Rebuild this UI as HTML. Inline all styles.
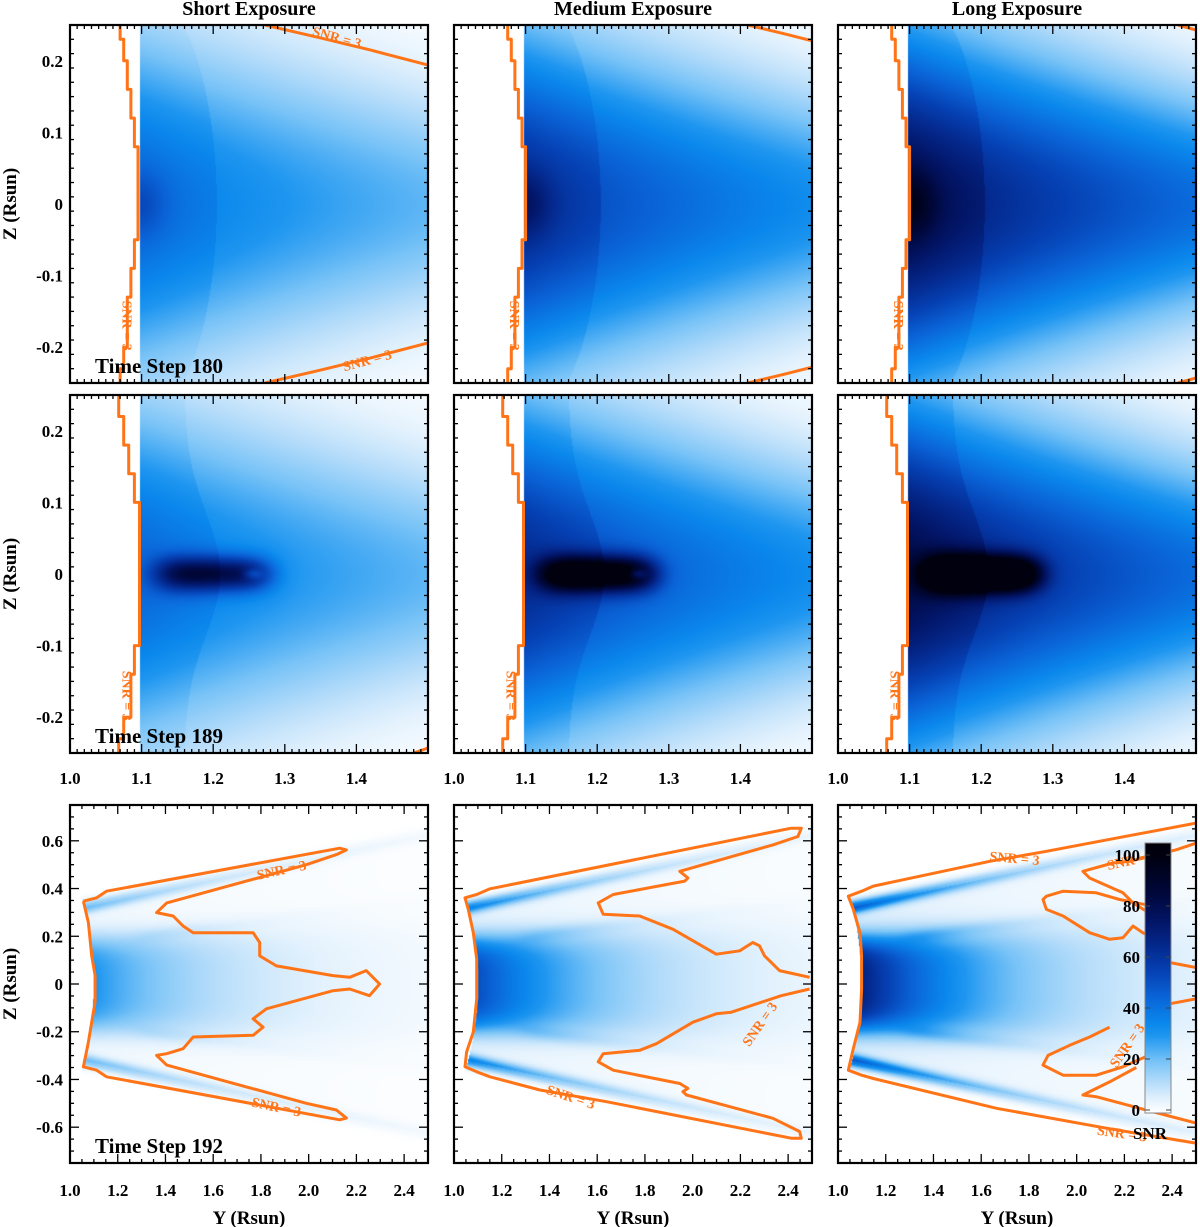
<!DOCTYPE html>
<html><head><meta charset="utf-8">
<style>
html,body{margin:0;padding:0;background:#fff;}
#root{position:relative;width:1200px;height:1227px;overflow:hidden;background:#fff;}
canvas{position:absolute;}
svg{position:absolute;left:0;top:0;}
text{font-family:"Liberation Serif",serif;font-weight:bold;}
</style></head>
<body>
<div id="root">
<svg id="ov" width="1200" height="1227"></svg>
</div>
<script>
// ---------- data ----------
const exposures = ["Short Exposure","Medium Exposure","Long Exposure"];
const expGain = [40, 58, 75];          // rows 1-2 base SNR scale per exposure
const row3Gain = [0.45, 0.75, 1.0];    // row 3 SNR scale per exposure
const timeSteps = [180, 189, 192];
const xRanges = [[1.0,1.5],[1.0,1.5],[1.0,2.5]];
const zRanges = [[-0.25,0.25],[-0.25,0.25],[-0.75,0.75]];
const xTickLabels = [["1.0","1.1","1.2","1.3","1.4"],["1.0","1.1","1.2","1.3","1.4"],["1.0","1.2","1.4","1.6","1.8","2.0","2.2","2.4"]];
const xTickVals = [[1.0,1.1,1.2,1.3,1.4],[1.0,1.1,1.2,1.3,1.4],[1.0,1.2,1.4,1.6,1.8,2.0,2.2,2.4]];
const zTickVals = [[0.2,0.1,0,-0.1,-0.2],[0.2,0.1,0,-0.1,-0.2],[0.6,0.4,0.2,0,-0.2,-0.4,-0.6]];
const zTickLabels = [["0.2","0.1","0","-0.1","-0.2"],["0.2","0.1","0","-0.1","-0.2"],["0.6","0.4","0.2","0","-0.2","-0.4","-0.6"]];
const cbarVals = [0,20,40,60,80,100];
// contours (Y, Z in Rsun)
const limbR1 = [[1.07,0.25],[1.07,0.23],[1.075,0.23],[1.075,0.2],[1.08,0.2],[1.08,0.16],[1.085,0.16],[1.085,0.12],[1.09,0.12],[1.09,0.08],[1.095,0.08],[1.095,-0.05],[1.09,-0.05],[1.09,-0.09],[1.085,-0.09],[1.085,-0.13],[1.08,-0.13],[1.08,-0.2],[1.075,-0.2],[1.075,-0.23],[1.07,-0.23],[1.07,-0.25]];
const limbR2 = [[1.068,0.25],[1.068,0.22],[1.075,0.22],[1.075,0.18],[1.082,0.18],[1.082,0.14],[1.09,0.14],[1.09,0.1],[1.097,0.1],[1.097,-0.1],[1.09,-0.1],[1.09,-0.14],[1.085,-0.14],[1.085,-0.2],[1.075,-0.2],[1.075,-0.23],[1.068,-0.23],[1.068,-0.25]];
const r1Top = [[[1.272,0.25],[1.35,0.232],[1.42,0.215],[1.5,0.194]],[[1.41,0.25],[1.46,0.238],[1.5,0.228]],[[1.475,0.25],[1.5,0.243]]];
const r1Bot = [[[1.272,-0.25],[1.35,-0.232],[1.42,-0.215],[1.5,-0.194]],[[1.41,-0.25],[1.46,-0.238],[1.5,-0.228]],[[1.475,-0.25],[1.5,-0.243]]];
const r3c1 = [[1.056,0.347],[1.112,0.361],[1.153,0.389],[2.13,0.569],[2.158,0.562],[2.116,0.542],[1.99,0.5],[1.405,0.34],[1.363,0.299],[1.432,0.285],[1.474,0.243],[1.516,0.215],[1.767,0.215],[1.795,0.174],[1.795,0.118],[1.865,0.076],[2.102,0.035],[2.172,0.028],[2.241,0.056],[2.297,0],[2.255,-0.049],[2.172,-0.021],[2.102,-0.028],[1.823,-0.104],[1.767,-0.146],[1.809,-0.181],[1.767,-0.215],[1.516,-0.222],[1.474,-0.271],[1.405,-0.292],[1.363,-0.299],[1.405,-0.34],[1.99,-0.5],[2.116,-0.528],[2.158,-0.562],[2.13,-0.569],[1.153,-0.389],[1.112,-0.361],[1.056,-0.347],[1.077,-0.243],[1.091,-0.16],[1.105,-0.076],[1.105,0.035],[1.091,0.118],[1.077,0.257],[1.056,0.347]];
const r3c2 = [[2.49,0.028],[2.364,0.056],[2.301,0.118],[2.28,0.16],[2.252,0.174],[2.197,0.139],[2.099,0.125],[1.918,0.229],[1.778,0.285],[1.625,0.292],[1.604,0.34],[1.667,0.375],[1.967,0.431],[1.98,0.444],[1.946,0.472],[2.336,0.583],[2.441,0.618],[2.455,0.653],[2.413,0.653],[1.151,0.399],[1.095,0.375],[1.046,0.361],[1.06,0.3125],[1.081,0.215],[1.095,0.104],[1.095,-0.0625],[1.081,-0.201],[1.053,-0.285],[1.046,-0.347],[1.095,-0.368],[1.151,-0.389],[1.36,-0.444],[1.639,-0.493],[2.413,-0.646],[2.455,-0.646],[2.448,-0.618],[2.336,-0.5625],[1.974,-0.465],[1.959,-0.451],[1.98,-0.4375],[1.946,-0.417],[1.667,-0.361],[1.604,-0.326],[1.625,-0.292],[1.778,-0.278],[1.848,-0.25],[2.001,-0.16],[2.099,-0.125],[2.162,-0.118],[2.371,-0.049],[2.49,-0.021]];
const r3c3 = [
 [[2.5,0.674],[1.873,0.556],[1.636,0.514],[1.148,0.41],[1.099,0.389],[1.043,0.368],[1.064,0.3125],[1.092,0.215],[1.099,0.118],[1.099,-0.021],[1.092,-0.16],[1.064,-0.271],[1.043,-0.361],[1.099,-0.382],[1.148,-0.396],[1.664,-0.521],[2.124,-0.604],[2.5,-0.667]],
 [[2.5,0.59],[2.417,0.5625],[2.222,0.514],[2.152,0.507],[2.026,0.472],[2.054,0.444],[2.194,0.382],[2.236,0.34],[2.3,0.3]],
 [[2.3,0.33],[2.18,0.354],[2.082,0.382],[1.943,0.389],[1.873,0.368],[1.859,0.354],[1.873,0.3125],[1.943,0.285],[2.054,0.215],[2.138,0.1875],[2.194,0.194],[2.236,0.243],[2.277,0.215],[2.305,0.2]],
 [[2.389,0.09],[2.5,0.069]],
 [[2.389,-0.083],[2.5,-0.0625]],
 [[2.138,-0.181],[2.054,-0.222],[1.971,-0.257],[1.88,-0.299],[1.859,-0.34],[1.943,-0.382],[2.082,-0.382],[2.194,-0.347],[2.3,-0.3]],
 [[2.5,-0.583],[2.264,-0.521],[2.082,-0.472],[2.026,-0.465],[2.138,-0.41],[2.25,-0.35]]
];
// ---------- layout ----------
const colLeft=[70,454,838], rowTop=[25,395,805], PW=358, PH=358;
const ORANGE="#ff7417";
function xs(r,c,v){const[a,b]=xRanges[r];return colLeft[c]+(v-a)/(b-a)*PW;}
function zs(r,v){const[a,b]=zRanges[r];return rowTop[r]+(b-v)/(b-a)*PH;}
const cmapStops=[[0,[255,255,255]],[5,[228,242,253]],[12,[180,220,250]],[20,[120,195,247]],[30,[30,150,240]],[35,[10,135,236]],[45,[10,100,215]],[55,[5,65,180]],[65,[4,40,140]],[75,[2,20,100]],[85,[0,8,60]],[100,[0,0,15]]];
function cmap(v){v=Math.max(0,Math.min(100,v));for(let i=1;i<cmapStops.length;i++){if(v<=cmapStops[i][0]){const[a,ca]=cmapStops[i-1],[b,cb]=cmapStops[i];const t=(v-a)/(b-a);return[ca[0]+(cb[0]-ca[0])*t,ca[1]+(cb[1]-ca[1])*t,ca[2]+(cb[2]-ca[2])*t];}}return cmapStops[cmapStops.length-1][1];}
function snr(r,c,y,z){
 if(r<2){
  if(y<1.098) return 0;
  const A=expGain[c];
  const s=Math.max(0.1,0.17-(y-1.1)*0.15);
  let v=A*Math.exp(-(y-1.1)*1.4)*Math.exp(-z*z/(2*s*s));
  if(r===0){
   v+=A*0.2*Math.exp(-Math.pow((y-1.1)/0.035,2)-Math.pow(z/0.045,2));
   const ya=1.1+0.105*Math.sqrt(Math.max(0,1-Math.pow(z/0.3,2)));
   if(y<ya) v*=1.1;
  } else {
   const ya=1.16+0.05*Math.exp(-Math.pow(z/0.12,2));
   if(y<ya) v*=1.1;
   const amp=A*1.2;
   v+=amp*Math.exp(-Math.pow((y-1.2)/0.08,4))*Math.exp(-Math.pow(z/0.024,2));
   const d2=Math.pow((y-1.255)/0.013,2)+Math.pow(z/0.007,2);
   v-=0.35*amp*Math.exp(-d2);
  }
  return v;
 } else {
  const lim=1.1-0.4*z*z;
  if(y<lim) return 0;
  const g=row3Gain[c];
  const az=Math.abs(z);
  const w=0.2+0.06*(y-1.1);
  let v=62*Math.exp(-(y-1.1)/0.5)*Math.exp(-Math.pow(az/w,4));
  const zc=0.33+0.214*(y-1.1);
  v+=40*Math.exp(-(y-1.1)/0.6)*Math.exp(-Math.pow((az-zc)/0.028,2));
  if(az<zc) v+=6*Math.exp(-(y-1.1)/1.0);
  const zh=0.2+0.12*(y-1.3);
  const ramp=1/(1+Math.exp(-(y-1.3)/0.04));
  v+=10*ramp*Math.exp(-Math.max(0,y-1.3)/0.4)*Math.exp(-Math.pow((az-zh)/0.03,2));
  return v*g;
 }
}
const root=document.getElementById('root');
const ov=document.getElementById('ov');
const NS="http://www.w3.org/2000/svg";
function el(tag,attrs,parent){const e=document.createElementNS(NS,tag);for(const k in attrs)e.setAttribute(k,attrs[k]);(parent||ov).appendChild(e);return e;}
function txt(x,y,s,size,anchor,parent){const t=el('text',{x:x,y:y,'font-size':size,'text-anchor':anchor||'middle'},parent);t.textContent=s;return t;}

for(let r=0;r<3;r++)for(let c=0;c<3;c++){
 const cv=document.createElement('canvas');
 cv.width=PW;cv.height=PH;cv.style.left=colLeft[c]+'px';cv.style.top=rowTop[r]+'px';
 
 
 root.insertBefore(cv,ov);
 const ctx=cv.getContext('2d');const im=ctx.createImageData(PW,PH);
 const[x0,x1]=xRanges[r],[z0,z1]=zRanges[r];
 for(let j=0;j<PH;j++){const z=z1-(j+0.5)/PH*(z1-z0);for(let i=0;i<PW;i++){const y=x0+(i+0.5)/PW*(x1-x0);const col=cmap(snr(r,c,y,z));const k=(j*PW+i)*4;im.data[k]=col[0];im.data[k+1]=col[1];im.data[k+2]=col[2];im.data[k+3]=255;}}
 ctx.putImageData(im,0,0);
}
function poly(r,c,pts,name){
 const d=pts.map((p,i)=>(i?'L':'M')+xs(r,c,p[0]).toFixed(1)+','+zs(r,p[1]).toFixed(1)).join(' ');
 const p=el('path',{d:d,fill:'none',stroke:ORANGE,'stroke-width':3,'stroke-linejoin':'round','clip-path':'url(#clip'+r+c+')'});
 
 
}
function clabel(r,c,y,z,ang,s){
 const x=xs(r,c,y),yy=zs(r,z);
 const t=el('text',{x:x,y:yy+5,'font-size':14,'text-anchor':'middle',fill:ORANGE,transform:'rotate('+ang+' '+x+' '+yy+')'});
 t.textContent=s||"SNR = 3";
 
 
}
const defs=el('defs',{});
for(let r=0;r<3;r++)for(let c=0;c<3;c++)el('rect',{x:colLeft[c],y:rowTop[r],width:PW,height:PH},el('clipPath',{id:'clip'+r+c},defs));

for(let c=0;c<3;c++){
 const t=txt(colLeft[c]+PW/2,15,exposures[c],20);
 
 
}
// contours
for(let c=0;c<3;c++){
 const dx=[0,0.005,0.005][c];
 poly(0,c,limbR1.map(p=>[p[0]+dx,p[1]]),'snr3-contour-limb');
 poly(0,c,r1Top[c],'snr3-contour-top');
 poly(0,c,r1Bot[c],'snr3-contour-bottom');
 clabel(0,c,1.08+dx,-0.17,90);
 poly(1,c,limbR2,'snr3-contour-limb');
 clabel(1,c,1.08,-0.17,90);
}
clabel(0,0,1.373,0.233,15);
clabel(0,0,1.415,-0.218,-15);
poly(1,0,[[1.48,-0.25],[1.5,-0.243]],'snr3-contour-corner');
poly(2,0,r3c1,'snr3-contour');
clabel(2,0,1.886,0.479,-12);clabel(2,0,1.865,-0.514,12);
poly(2,1,r3c2,'snr3-contour');
clabel(2,1,1.49,-0.472,18);clabel(2,1,2.28,-0.167,-55);
r3c3.forEach(p=>poly(2,2,p,'snr3-contour'));
clabel(2,2,1.74,0.528,5);clabel(2,2,2.23,0.52,-12);clabel(2,2,2.21,-0.257,-55);clabel(2,2,2.19,-0.625,8);

// frames + ticks
function ticks(r,c){
 const L=colLeft[c],T=rowTop[r],g=el('g',{stroke:'#000','stroke-width':1.3});
 
 
 const[x0,x1]=xRanges[r],[z0,z1]=zRanges[r];
 const xMaj=r<2?0.1:0.2,xMin=r<2?0.01:0.05,zMaj=r<2?0.1:0.2,zMin=r<2?0.02:0.05;
 const nx=Math.round((x1-x0)/xMin);
 for(let i=0;i<=nx;i++){const v=x0+i*xMin;const maj=Math.abs(v/xMaj-Math.round(v/xMaj))<1e-6;const len=maj?9:4;const x=xs(r,c,v);
  el('line',{x1:x,y1:T+PH,x2:x,y2:T+PH-len},g);el('line',{x1:x,y1:T,x2:x,y2:T+len},g);}
 const nz=Math.round((z1-z0)/zMin);
 for(let i=0;i<=nz;i++){const v=z0+i*zMin;const maj=Math.abs(v/zMaj-Math.round(v/zMaj))<1e-6;const len=maj?9:4;const y=zs(r,v);
  el('line',{x1:L,y1:y,x2:L+len,y2:y},g);el('line',{x1:L+PW,y1:y,x2:L+PW-len,y2:y},g);}
 el('rect',{x:L,y:T,width:PW,height:PH,fill:'none',stroke:'#000','stroke-width':2.2});
}
for(let r=0;r<3;r++)for(let c=0;c<3;c++)ticks(r,c);
// tick labels
for(let r=0;r<3;r++){
 zTickVals[r].forEach((v,i)=>{const t=txt(63,zs(r,v)+6,zTickLabels[r][i],17,'end');});
 const at=el('text',{x:0,y:0,'font-size':19,'text-anchor':'middle',transform:'translate(16,'+zs(r,0)+') rotate(-90)'});
 at.textContent="Z (Rsun)";
 
 
 const ts=txt(colLeft[0]+25,rowTop[r]+PH-10,"Time Step "+timeSteps[r],21,'start');
 
 
}
for(let c=0;c<3;c++){
 [1,2].forEach(r=>{
  const yy=r===1?784:1196;
  xTickVals[r].forEach((v,i)=>{const t=txt(xs(r,c,v),yy,xTickLabels[r][i],17);});
 });
 const at=txt(colLeft[c]+PW/2,1224,"Y (Rsun)",19);
 
 
}
// colorbar
const lg=el('linearGradient',{id:'cbg',x1:0,y1:1,x2:0,y2:0},defs);
cmapStops.forEach(s=>{el('stop',{offset:(s[0]/105).toFixed(3),'stop-color':'rgb('+s[1].map(Math.round).join(',')+')'},lg);});
el('stop',{offset:1,'stop-color':'rgb(0,0,10)'},lg);
const cb=el('rect',{x:1145,y:843,width:26,height:270,fill:'url(#cbg)',stroke:'#888','stroke-width':1});


cbarVals.forEach(v=>{const y=1110-v*2.55;
 el('line',{x1:1145,y1:y,x2:1150,y2:y,stroke:'#444','stroke-width':1});
 el('line',{x1:1171,y1:y,x2:1166,y2:y,stroke:'#444','stroke-width':1});
 const t=txt(1140,y+6,String(v),17,'end');});
const cbt=txt(1150,1139,"SNR",17);


</script>
</body></html>
